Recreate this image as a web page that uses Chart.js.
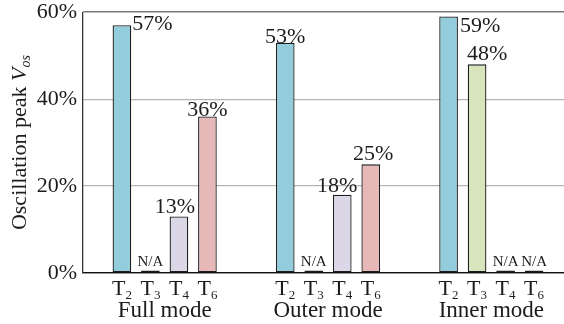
<!DOCTYPE html>
<html>
<head>
<meta charset="utf-8">
<script src="https://cdn.jsdelivr.net/npm/chart.js@4/dist/chart.umd.min.js"></script>
<style>
  html, body { margin: 0; padding: 0; background: #fff; overflow: hidden; }
  #wrap { width: 574px; height: 324px; overflow: hidden; }
  #c { display: block; margin-top: -7px; }
</style>
</head>
<body>
<div id="wrap"><canvas id="c" width="574" height="331"></canvas></div>
<script>
// Oscillation peak per control mode and test point (null = not available)
const modes = ['Full mode', 'Outer mode', 'Inner mode'];
const testPoints = ['2', '3', '4', '6'];
const peakT2 = [57, 53, 59];
const peakT3 = [null, null, 48];
const peakT4 = [13, 18, null];
const peakT6 = [36, 25, null];
const yTicks = [0, 20, 40, 60];

const series = [peakT2, peakT3, peakT4, peakT6];
const fills = ['#93cddb', '#d7e4bc', '#dcd7e6', '#e6b9b8'];
const SERIF = "'Liberation Serif', 'Times New Roman', serif";
const INK = '#1c1c1c';

// label placement tweaks, keyed "dataset-index"
const labelTweaks = {
  '0-0': { align: 'left', dx: 1, dy: 8 },
  '0-1': { dy: 3 },
  '0-2': { align: 'left', dx: 2, dy: 18.5 },
  '1-2': { dx: 10, dy: -1 },
  '2-0': { dx: -4 },
  '2-1': { dx: -5 },
  '3-0': { dy: 2 },
  '3-1': { dx: 2.5, dy: -1 }
};

const valueLabels = {
  id: 'valueLabels',
  afterDatasetsDraw(chart) {
    const ctx = chart.ctx;
    ctx.save();
    ctx.fillStyle = INK;
    ctx.textBaseline = 'alphabetic';
    chart.data.datasets.forEach((ds, di) => {
      const meta = chart.getDatasetMeta(di);
      meta.data.forEach((el, i) => {
        const v = series[di][i];
        const t = labelTweaks[di + '-' + i] || {};
        if (v === null) {
          ctx.font = '15px ' + SERIF;
          ctx.textAlign = 'center';
          ctx.fillText('N/A', el.x, el.y - 5);
          return;
        }
        ctx.font = '22px ' + SERIF;
        let x = el.x + (t.dx || 0);
        if (t.align === 'left') {
          ctx.textAlign = 'left';
          x = el.x + el.width / 2 + (t.dx || 0);
        } else {
          ctx.textAlign = 'center';
        }
        ctx.fillText(v + '%', x, el.y - 3 + (t.dy || 0));
      });
    });
    ctx.restore();
  }
};

// T-subscript labels under every bar
const pointLabels = {
  id: 'pointLabels',
  afterDatasetsDraw(chart) {
    const ctx = chart.ctx;
    const base = chart.chartArea.bottom + 22;
    ctx.save();
    ctx.fillStyle = INK;
    ctx.textBaseline = 'alphabetic';
    ctx.textAlign = 'left';
    chart.data.datasets.forEach((ds, di) => {
      const sub = testPoints[di];
      chart.getDatasetMeta(di).data.forEach(el => {
        ctx.font = '22px ' + SERIF;
        const wT = ctx.measureText('T').width;
        ctx.font = '13px ' + SERIF;
        const wS = ctx.measureText(sub).width;
        const x0 = el.x - (wT + wS) / 2;
        ctx.font = '22px ' + SERIF;
        ctx.fillText('T', x0, base);
        ctx.font = '13px ' + SERIF;
        ctx.fillText(sub, x0 + wT, base + 4);
      });
    });
    ctx.restore();
  }
};

// rotated y title with italic V and subscript "os"
const yTitle = {
  id: 'yTitle',
  afterDraw(chart) {
    const ctx = chart.ctx;
    const a = chart.chartArea;
    const parts = [
      { t: 'Oscillation peak ', f: '22px ' + SERIF, dy: 0 },
      { t: 'V', f: 'italic 22px ' + SERIF, dy: 0 },
      { t: 'os', f: 'italic 14px ' + SERIF, dy: 4 }
    ];
    ctx.save();
    let total = 0;
    parts.forEach(p => { ctx.font = p.f; p.w = ctx.measureText(p.t).width; total += p.w; });
    ctx.translate(26, (a.top + a.bottom) / 2);
    ctx.rotate(-Math.PI / 2);
    ctx.fillStyle = INK;
    ctx.textBaseline = 'alphabetic';
    ctx.textAlign = 'left';
    let x = -total / 2;
    parts.forEach(p => { ctx.font = p.f; ctx.fillText(p.t, x, p.dy); x += p.w; });
    ctx.restore();
  }
};

new Chart(document.getElementById('c'), {
  type: 'bar',
  data: {
    labels: modes,
    datasets: series.map((arr, i) => ({
      label: 'T' + testPoints[i],
      data: arr.map(v => (v === null ? 0 : v)),
      backgroundColor: fills[i],
      borderColor: INK,
      borderWidth: 1.3,
      borderSkipped: false,
      minBarLength: 2.5,
      categoryPercentage: 0.698,
      barPercentage: 0.655
    }))
  },
  options: {
    responsive: false,
    animation: false,
    devicePixelRatio: 1,
    layout: { autoPadding: false, padding: { top: 12, right: 1, left: 0, bottom: 0 } },
    plugins: { legend: { display: false }, tooltip: { enabled: false } },
    scales: {
      x: {
        afterFit(s) { s.height = 51; },
        grid: { display: false, drawTicks: false },
        border: { display: true, color: '#111', width: 1.3 },
        ticks: { color: INK, font: { family: SERIF, size: 23 }, padding: 24 }
      },
      y: {
        min: 0,
        max: 60,
        afterFit(s) { s.width = 83; },
        afterBuildTicks(s) { s.ticks = yTicks.map(v => ({ value: v })); },
        grid: {
          drawTicks: false,
          color: c => (c.tick.value === 60 ? '#7a7a7a' : c.tick.value === 0 ? '#111' : '#b4b4b4'),
          lineWidth: c => (c.tick.value === 60 ? 1.6 : 1.2)
        },
        border: { display: true, color: '#333', width: 1.3 },
        ticks: {
          color: INK,
          font: { family: SERIF, size: 22 },
          padding: 6,
          callback: v => v + '%'
        }
      }
    }
  },
  plugins: [valueLabels, pointLabels, yTitle]
});
</script>
</body>
</html>
